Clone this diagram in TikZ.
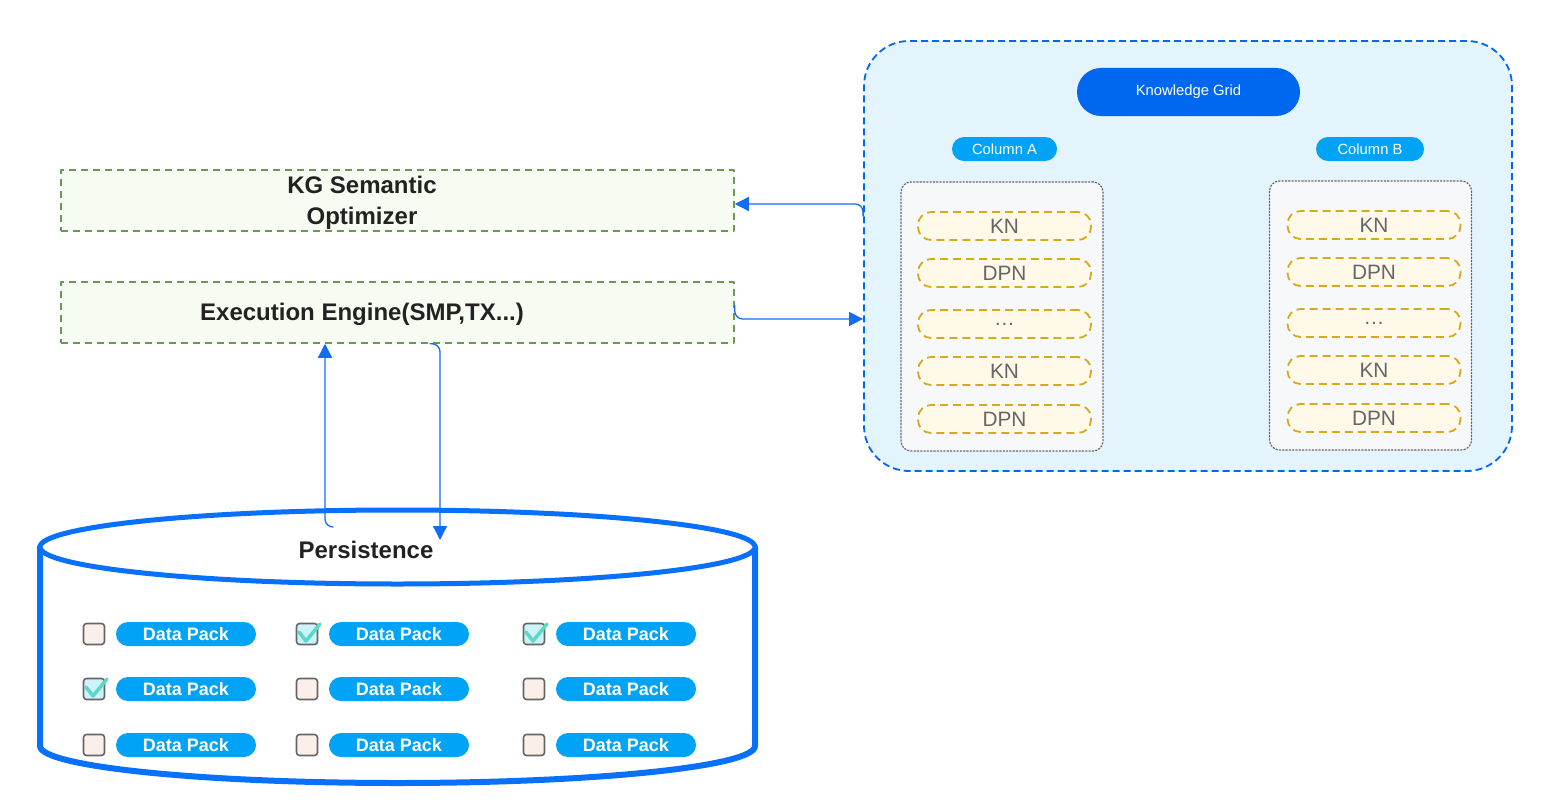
\documentclass[tikz,border=0pt]{standalone}
\usepackage{fontspec}
\setmainfont{Liberation Sans}
\usetikzlibrary{arrows.meta}
\definecolor{gridblue}{RGB}{0,104,240}
\definecolor{pillblue}{RGB}{0,163,245}
\definecolor{linkblue}{RGB}{20,108,245}
\definecolor{cylblue}{RGB}{8,112,250}
\definecolor{gridfill}{RGB}{228,244,252}
\definecolor{kngold}{RGB}{214,170,26}
\definecolor{knfill}{RGB}{255,249,233}
\definecolor{colgray}{RGB}{102,102,102}
\definecolor{colfill}{RGB}{246,248,250}
\definecolor{optgreen}{RGB}{106,153,85}
\definecolor{optfill}{RGB}{247,252,243}
\definecolor{boxfill}{RGB}{251,239,233}
\definecolor{boxon}{RGB}{204,242,250}
\definecolor{ticked}{RGB}{93,216,196}
\definecolor{ink}{RGB}{34,34,34}
\begin{document}
\begin{tikzpicture}[x=1pt,y=-1pt,line join=round,line cap=round,
    link/.style={-{Triangle[length=14pt,width=14pt]},draw=linkblue,line width=1.3pt,rounded corners=8pt},
    layer/.style={draw=optgreen,fill=optfill,line width=1.5pt,dash pattern=on 7pt off 5pt,line cap=butt,
        minimum width=673pt,minimum height=61pt,inner sep=0pt},
    layertext/.style={text=ink,align=center,inner sep=0pt,font=\bfseries\fontsize{24}{31}\selectfont},
    pill/.style={fill=#1,text=white,inner sep=0pt,minimum height=24pt,rounded corners=12pt},
    column/.style={draw=colgray,fill=colfill,line width=1.3pt,dotted,rounded corners=10pt,
        minimum width=202pt,minimum height=269pt,inner sep=0pt},
    kn/.style={draw=kngold,fill=knfill,line width=1.8pt,dash pattern=on 8pt off 5pt,line cap=butt,
        rounded corners=13pt,minimum width=173pt,minimum height=28pt,inner sep=0pt,
        text=colgray,font=\fontsize{20.8}{24}\selectfont},
    chkbox/.style={draw=colgray,fill=#1,line width=1.6pt,rounded corners=3pt,minimum size=21pt,inner sep=0pt},
    tick/.style={draw=ticked,line width=3.5pt},
    pack/.style={pill=pillblue,minimum width=140pt,font=\bfseries\fontsize{18}{20}\selectfont},
    cyl/.style={draw=cylblue,line width=6pt}]
\useasboundingbox (0,0) rectangle (1550,800);

% knowledge grid
\node[draw=gridblue,fill=gridfill,line width=1.8pt,dash pattern=on 7pt off 4pt,line cap=butt,
    rounded corners=45pt,minimum width=648pt,minimum height=430pt,inner sep=0pt] (grid) at (1188,256) {};
\node[pill=gridblue,minimum width=223pt,minimum height=48pt,rounded corners=24pt,
    font=\fontsize{14.8}{16}\selectfont] (kgrid) at (1188.5,92) {Knowledge Grid};
\node[pill=pillblue,minimum width=105pt,font=\fontsize{14.8}{16}\selectfont] (colAlab) at (1004.5,149) {Column A};
\node[pill=pillblue,minimum width=108pt,font=\fontsize{14.8}{16}\selectfont] (colBlab) at (1370,149) {Column B};
\node[column] (colA) at (1002,316.5) {};
\node[column] (colB) at (1370.5,315.5) {};
\foreach \lab/\yy [count=\i] in {KN/226,DPN/273,\ldots/324,KN/371,DPN/419}{
    \node[kn] (knA\i) at (1004.5,\yy) {\lab};
    \node[kn] (knB\i) at (1374,\yy-1) {\lab};
}

% engine layers
\node[layer] (opt) at (397.5,200.5) {};
\node[layertext] (opttext) at ([shift={(-35.5,2.5)}]opt.center) {KG Semantic\\Optimizer};
\node[layer] (exec) at (397.5,312.5) {};
\node[layertext] (exectext) at ([shift={(-35.5,2)}]exec.center) {Execution Engine(SMP,TX...)};

% persistence
\draw[cyl] (40,547) -- (40,746)
    .. controls (40,766.4) and (200.1,783) .. (397.5,783)
    .. controls (594.9,783) and (755,766.4) .. (755,746) -- (755,547);
\draw[cyl,line width=5pt,fill=white] (397.5,547) ellipse [x radius=357.5, y radius=37];
\node[text=ink,font=\bfseries\fontsize{24}{28}\selectfont] (store) at (366,550) {Persistence};
\coordinate (pin) at (333,527);
\coordinate (pout) at (440,540);
\foreach \cx/\ry/\st [count=\i] in {94/634/0,307/634/1,534/634/1,
        94/689/1,307/689/0,534/689/0,
        94/745/0,307/745/0,534/745/0}{
    \ifnum\st=1
        \node[chkbox=boxon] (box\i) at (\cx,\ry) {};
        \draw[tick] ([shift={(-8,-2)}]box\i.center) -- ([shift={(-1,7)}]box\i.center) -- ([shift={(13,-10)}]box\i.center);
    \else
        \node[chkbox=boxfill] (box\i) at (\cx,\ry) {};
    \fi
    \node[pack] (pack\i) at (\cx+92,\ry) {Data Pack};
}

% links
\draw[link] ([yshift=40pt]grid.west) |- ([yshift=-3.5pt]opt.east);
\draw[link] ([yshift=7pt]exec.east) |- ([yshift=-63pt]grid.west);
\draw[link] (pin) -| ([xshift=-72.5pt]exec.south);
\draw[link] ([xshift=32.5pt]exec.south) -| (pout);
\end{tikzpicture}
\end{document}
